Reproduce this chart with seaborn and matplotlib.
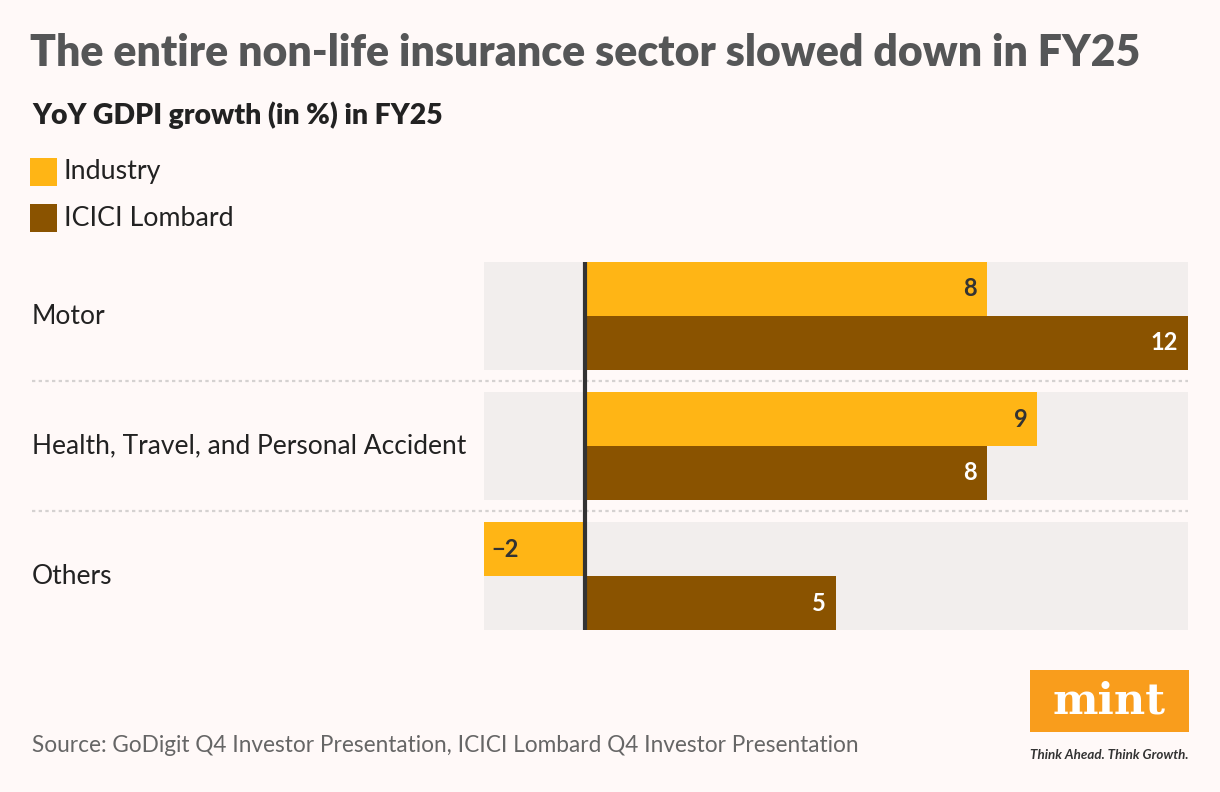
import numpy as np
import pandas as pd
import matplotlib.pyplot as plt
import seaborn as sns
from matplotlib.patches import Rectangle

# data
categories = ['Motor', 'Health, Travel, and Personal Accident', 'Others']
industry = [8, 9, -2]
icici = [12, 8, 5]
series_names = ['Industry', 'ICICI Lombard']
colors = ['#ffb515', '#8a5300']

df = pd.DataFrame({
    'category': categories * 2,
    'value': industry + icici,
    'series': [series_names[0]] * 3 + [series_names[1]] * 3,
})

W, H = 1220, 792
bg = '#fff9f8'
band = '#f2eeed'

sns.set_style('white')
plt.rcParams['font.family'] = ['Lato', 'DejaVu Sans']

fig = plt.figure(figsize=(W / 100, H / 100), dpi=100, facecolor=bg)
ax = fig.add_axes([484 / W, 1 - 630 / H, 704 / W, 368 / H])
ax.set_facecolor(bg)

bw = 0.83
for i in range(len(categories)):
    ax.axhspan(i - bw / 2, i + bw / 2, color=band, zorder=0, lw=0)

sns.barplot(data=df, x='value', y='category', hue='series', palette=colors,
            order=categories, hue_order=series_names, width=bw, saturation=1,
            orient='h', legend=False, ax=ax, zorder=2, linewidth=0)

ax.set_xlim(-2, 12)
ax.set_ylim(2 + bw / 2, -bw / 2)
ax.axvline(0, color='#333333', lw=3, zorder=4)

# separators
for y in [0.5, 1.5]:
    ax.axhline(y, xmin=(32 - 484) / 704, xmax=1, color='#d5d2d1', lw=1.6,
               ls=(0, (1.5, 1.5)), clip_on=False, zorder=1)

# value labels
for j, vals in enumerate([industry, icici]):
    tc = '#333333' if j == 0 else 'white'
    off = -bw / 4 if j == 0 else bw / 4
    for i, v in enumerate(vals):
        txt = f'{v}' if v >= 0 else f'\u2212{abs(v)}'
        if v >= 0:
            ax.annotate(txt, (v, i + off), xytext=(-7, 0), textcoords='offset points',
                        ha='right', va='center', fontsize=17, fontweight='bold', color=tc, zorder=5)
        else:
            ax.annotate(txt, (v, i + off), xytext=(5, 0), textcoords='offset points',
                        ha='left', va='center', fontsize=17, fontweight='bold', color=tc, zorder=5)

ax.set_xlabel('')
ax.set_ylabel('')
ax.set_xticks([])
ax.set_yticks([])
sns.despine(ax=ax, left=True, bottom=True)

# category labels
for i, c in enumerate(categories):
    fig.text(32 / W, 1 - (316 + 130 * i) / H, c, ha='left', va='center',
             fontsize=19, color='#222222')

# titles
fig.text(30 / W, 1 - 53 / H, 'The entire non-life insurance sector slowed down in FY25',
         ha='left', va='center', fontsize=30.8, fontweight='heavy', color='#555657')
fig.text(32 / W, 1 - 115 / H, 'YoY GDPI growth (in %) in FY25',
         ha='left', va='center', fontsize=20.4, fontweight='heavy', color='#222222')

# legend
for k, (name, col) in enumerate(zip(series_names, colors)):
    yc = 172 + 46 * k
    fig.add_artist(Rectangle((30 / W, 1 - (yc + 14) / H), 27 / W, 28 / H,
                             transform=fig.transFigure, color=col, lw=0))
    fig.text(64 / W, 1 - yc / H, name, ha='left', va='center',
             fontsize=19.3, color='#222222')

# source
fig.text(32 / W, 1 - 745 / H,
         'Source: GoDigit Q4 Investor Presentation, ICICI Lombard Q4 Investor Presentation',
         ha='left', va='center', fontsize=16.25, color='#666666')

# mint logo
fig.add_artist(Rectangle((1030 / W, 1 - 732 / H), 159 / W, 62 / H,
                         transform=fig.transFigure, color='#f99d1c', lw=0))
fig.text(1109 / W, 1 - 702 / H, 'mint', ha='center', va='center', fontsize=31,
         fontweight='bold', family='DejaVu Serif', color='white')
fig.text(1109 / W, 1 - 755 / H, 'Think Ahead. Think Growth.', ha='center', va='center',
         fontsize=9.6, style='italic', fontweight='bold', color='#333333')

fig.savefig('out.png', dpi=100, facecolor=bg)
